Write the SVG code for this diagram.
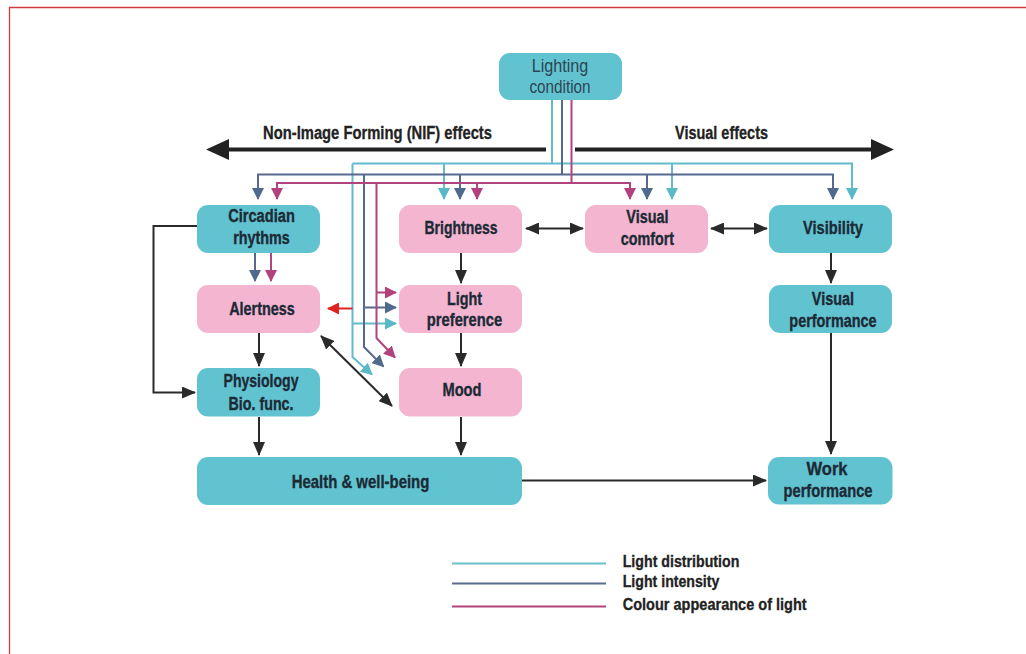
<svg xmlns="http://www.w3.org/2000/svg" width="1026" height="654" viewBox="0 0 1026 654">
<style>
.bt{fill:#62c3d0}
.bp{fill:#f4b5d1}
.t{font-family:"Liberation Sans Narrow","Liberation Sans",Arial,sans-serif;font-weight:bold;font-size:17.5px;fill:#1c2a36;stroke:#1c2a36;stroke-width:0.35;text-anchor:middle}
.tr{font-family:"Liberation Sans Narrow","Liberation Sans",Arial,sans-serif;font-size:18px;fill:#2b4654;text-anchor:middle}
.h{font-family:"Liberation Sans Narrow","Liberation Sans",Arial,sans-serif;font-weight:bold;font-size:18px;fill:#222;stroke:#222;stroke-width:0.3}
.lg{font-family:"Liberation Sans Narrow","Liberation Sans",Arial,sans-serif;font-weight:bold;font-size:16.5px;fill:#222;stroke:#222;stroke-width:0.3}
.k{fill:none;stroke:#2a2a2a;stroke-width:2}
.ct{fill:none;stroke:#62bccb;stroke-width:2}
.cb{fill:none;stroke:#56698f;stroke-width:2}
.cp{fill:none;stroke:#b0447f;stroke-width:2}
</style>
<defs>
<marker id="ak" markerUnits="userSpaceOnUse" markerWidth="14" markerHeight="12" refX="13" refY="6" orient="auto-start-reverse"><path d="M0,0 L14,6 L0,12 z" fill="#2a2a2a"/></marker>
<marker id="at" markerUnits="userSpaceOnUse" markerWidth="12" markerHeight="12" refX="11" refY="6" orient="auto"><path d="M0,0 L12,6 L0,12 z" fill="#5ab9c6"/></marker>
<marker id="ab" markerUnits="userSpaceOnUse" markerWidth="12" markerHeight="12" refX="11" refY="6" orient="auto"><path d="M0,0 L12,6 L0,12 z" fill="#506a8e"/></marker>
<marker id="ap" markerUnits="userSpaceOnUse" markerWidth="12" markerHeight="12" refX="11" refY="6" orient="auto"><path d="M0,0 L12,6 L0,12 z" fill="#b2427e"/></marker>
<marker id="ar" markerUnits="userSpaceOnUse" markerWidth="12" markerHeight="12" refX="11" refY="6" orient="auto"><path d="M0,0 L12,6 L0,12 z" fill="#e02222"/></marker>
</defs>
<rect width="1026" height="654" fill="#fff"/>
<path d="M9.5,654 V7.5 H1026" fill="none" stroke="#d63a40" stroke-width="1.3"/>

<g id="effects-axis">
<path d="M228,149.5 H546" stroke="#222" stroke-width="4"/>
<polygon points="206,149.5 229,139 229,160" fill="#222"/>
<path d="M575,149.5 H872" stroke="#222" stroke-width="4"/>
<polygon points="894,149.5 871,139 871,160" fill="#222"/>
<text class="h" x="263" y="139" textLength="229" lengthAdjust="spacingAndGlyphs">Non-Image Forming (NIF) effects</text>
<text class="h" x="675" y="139" textLength="93" lengthAdjust="spacingAndGlyphs">Visual effects</text>
</g>

<g id="connectors">
<path class="ct" d="M552,100 V163.5"/>
<path class="ct" d="M352.5,163.5 H852 V199" marker-end="url(#at)"/>
<path class="ct" d="M444,163.5 V199" marker-end="url(#at)"/>
<path class="ct" d="M672,163.5 V199" marker-end="url(#at)"/>
<path class="ct" d="M352.5,163.5 V357 L372,374.5" marker-end="url(#at)"/>
<path class="ct" d="M352.5,323.5 H396" marker-end="url(#at)"/>
<path class="cb" d="M562,100 V174.5"/>
<path class="cb" d="M258,199 V174.5 H833 V199" marker-end="url(#ab)"/>
<path class="cb" d="M258,176 V199" marker-end="url(#ab)"/>
<path class="cb" d="M460,174.5 V199" marker-end="url(#ab)"/>
<path class="cb" d="M647,174.5 V199" marker-end="url(#ab)"/>
<path class="cb" d="M364,174.5 V347 L383.5,366.5" marker-end="url(#ab)"/>
<path class="cb" d="M364,307.5 H396" marker-end="url(#ab)"/>
<path class="cb" d="M255,253 V281" marker-end="url(#ab)"/>
<path class="cp" d="M571.5,100 V183"/>
<path class="cp" d="M277,199 V183 H630 V199" marker-end="url(#ap)"/>
<path class="cp" d="M277,185 V199" marker-end="url(#ap)"/>
<path class="cp" d="M477,183 V199" marker-end="url(#ap)"/>
<path class="cp" d="M376.5,183 V338 L395,357.5" marker-end="url(#ap)"/>
<path class="cp" d="M376.5,292.5 H396" marker-end="url(#ap)"/>
<path class="cp" d="M271,253 V281" marker-end="url(#ap)"/>
<path d="M352.5,308.5 H328" fill="none" stroke="#e02222" stroke-width="2" marker-end="url(#ar)"/>
<path class="k" d="M526,228.5 H583" marker-start="url(#ak)" marker-end="url(#ak)"/>
<path class="k" d="M711,228.5 H767" marker-start="url(#ak)" marker-end="url(#ak)"/>
<path class="k" d="M461,253 V283" marker-end="url(#ak)"/>
<path class="k" d="M461,333 V366" marker-end="url(#ak)"/>
<path class="k" d="M259,333 V366" marker-end="url(#ak)"/>
<path class="k" d="M197,226 H153.5 V392.5 H195" marker-end="url(#ak)"/>
<path class="k" d="M321,336 L392,406" marker-start="url(#ak)" marker-end="url(#ak)"/>
<path class="k" d="M259,417 V455" marker-end="url(#ak)"/>
<path class="k" d="M461,417 V455" marker-end="url(#ak)"/>
<path class="k" d="M522,480.5 H766" marker-end="url(#ak)"/>
<path class="k" d="M831,253 V283" marker-end="url(#ak)"/>
<path class="k" d="M831,333 V454" marker-end="url(#ak)"/>
</g>

<g id="lighting-condition">
<rect class="bt" x="499" y="53" width="123" height="47" rx="11"/>
<text class="tr" x="560" y="71.5" textLength="56.7" lengthAdjust="spacingAndGlyphs">Lighting</text>
<text class="tr" x="560" y="93" textLength="61" lengthAdjust="spacingAndGlyphs">condition</text>
</g>
<g id="circadian-rhythms">
<rect class="bt" x="197" y="205" width="123" height="48" rx="11"/>
<text class="t" x="261.5" y="222" textLength="66.7" lengthAdjust="spacingAndGlyphs">Circadian</text>
<text class="t" x="261.5" y="243.5" textLength="56.7" lengthAdjust="spacingAndGlyphs">rhythms</text>
</g>
<g id="brightness">
<rect class="bp" x="399" y="205" width="123" height="48" rx="11"/>
<text class="t" x="461" y="234" textLength="73" lengthAdjust="spacingAndGlyphs">Brightness</text>
</g>
<g id="visual-comfort">
<rect class="bp" x="585" y="205" width="123" height="48" rx="11"/>
<text class="t" x="647.5" y="222.7" textLength="42.3" lengthAdjust="spacingAndGlyphs">Visual</text>
<text class="t" x="647.5" y="245" textLength="53.3" lengthAdjust="spacingAndGlyphs">comfort</text>
</g>
<g id="visibility">
<rect class="bt" x="769" y="205" width="123" height="48" rx="11"/>
<text class="t" x="833" y="234" textLength="60" lengthAdjust="spacingAndGlyphs">Visibility</text>
</g>
<g id="alertness">
<rect class="bp" x="197" y="285" width="123" height="48" rx="11"/>
<text class="t" x="262" y="315" textLength="65.7" lengthAdjust="spacingAndGlyphs">Alertness</text>
</g>
<g id="light-preference">
<rect class="bp" x="399" y="285" width="123" height="48" rx="11"/>
<text class="t" x="464.5" y="305" textLength="35" lengthAdjust="spacingAndGlyphs">Light</text>
<text class="t" x="464.5" y="325.5" textLength="75.3" lengthAdjust="spacingAndGlyphs">preference</text>
</g>
<g id="visual-performance">
<rect class="bt" x="769" y="285" width="123" height="48" rx="11"/>
<text class="t" x="833" y="305" textLength="42.3" lengthAdjust="spacingAndGlyphs">Visual</text>
<text class="t" x="833" y="326.7" textLength="87.3" lengthAdjust="spacingAndGlyphs">performance</text>
</g>
<g id="physiology">
<rect class="bt" x="197" y="368" width="123" height="48.5" rx="11"/>
<text class="t" x="261" y="386.7" textLength="75" lengthAdjust="spacingAndGlyphs">Physiology</text>
<text class="t" x="261" y="410" textLength="65" lengthAdjust="spacingAndGlyphs">Bio. func.</text>
</g>
<g id="mood">
<rect class="bp" x="399" y="368" width="123" height="48.5" rx="11"/>
<text class="t" x="462" y="396" textLength="39" lengthAdjust="spacingAndGlyphs">Mood</text>
</g>
<g id="health">
<rect class="bt" x="197" y="457" width="325" height="48" rx="11"/>
<text class="t" x="360.5" y="488.3" textLength="137.7" lengthAdjust="spacingAndGlyphs">Health &amp; well-being</text>
</g>
<g id="work-performance">
<rect class="bt" x="768" y="457" width="124.5" height="47.5" rx="11"/>
<text class="t" x="827" y="475" textLength="41" lengthAdjust="spacingAndGlyphs">Work</text>
<text class="t" x="828" y="496.7" textLength="89" lengthAdjust="spacingAndGlyphs">performance</text>
</g>

<g id="legend">
<path d="M452,563.5 H606" stroke="#6cbfcc" stroke-width="2"/>
<path d="M452,583.5 H606" stroke="#5c6c8c" stroke-width="2"/>
<path d="M452,606.5 H606" stroke="#b0447f" stroke-width="2"/>
<text class="lg" x="622.7" y="567.3" textLength="116.7" lengthAdjust="spacingAndGlyphs">Light distribution</text>
<text class="lg" x="622.7" y="587.3" textLength="96.7" lengthAdjust="spacingAndGlyphs">Light intensity</text>
<text class="lg" x="622.7" y="610" textLength="184" lengthAdjust="spacingAndGlyphs">Colour appearance of light</text>
</g>
</svg>
